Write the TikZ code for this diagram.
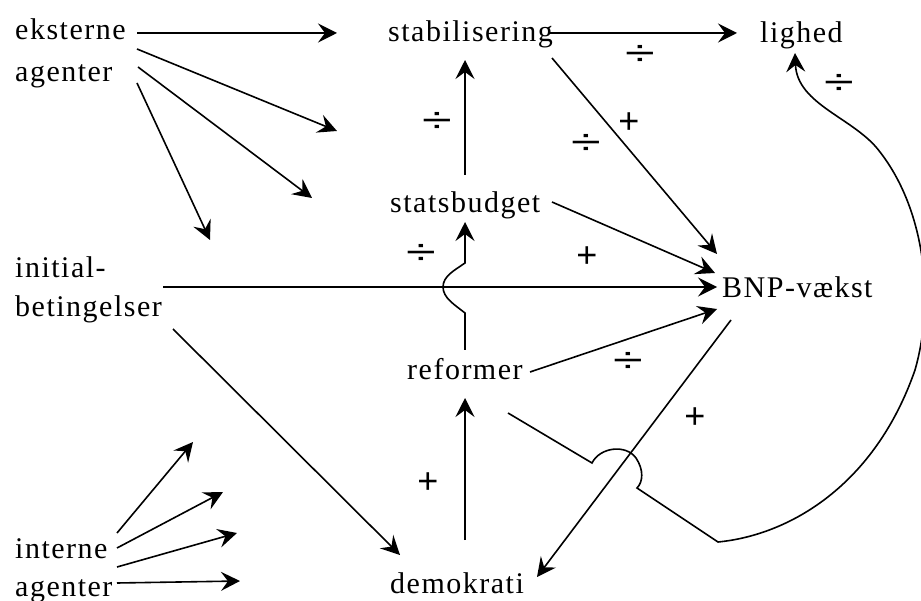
\documentclass[tikz,border=0pt]{standalone}
\usepackage{fontspec}
\usepackage{graphicx}
\setmainfont{Liberation Serif}[LetterSpace=5]
\newfontfamily\signfont{Liberation Sans}
\usetikzlibrary{arrows.meta}
\begin{document}
\begin{tikzpicture}[x=1pt,y=-1pt,
  lbl/.style={anchor=base west, inner sep=0pt, font=\fontsize{30}{36}\selectfont},
  arr/.style={line width=1.6pt, -{Stealth[length=19pt,width=19pt,inset=7pt]}},
  dv/.style={inner sep=0pt, font=\signfont\fontsize{36}{40}\selectfont},
  pl/.style={inner sep=0pt, font=\signfont\fontsize{36}{40}\selectfont}]
\useasboundingbox[fill=white] (0,0) rectangle (921,601);
% labels
\node[lbl] (eks)  at (15,40)  {eksterne};
\node[lbl] (eksb) at (15,82)  {agenter};
\node[lbl] (stab) at (388,42) {stabilisering};
\node[lbl] (lig)  at (760,43) {lighed};
\node[lbl] (stat) at (390,213) {statsbudget};
\node[lbl] (ini)  at (15,278) {initial-};
\node[lbl] (inib) at (15,317) {betingelser};
\node[lbl] (bnp)  at (722,298) {BNP-vækst};
\node[lbl] (ref)  at (407,380) {reformer};
\node[lbl] (dem)  at (390,593) {demokrati};
\node[lbl] (int)  at (15,558) {interne};
\node[lbl] (intb) at (15,596) {agenter};
% free ends
\coordinate (e1) at (337,131);
\coordinate (e2) at (312,198);
\coordinate (e3) at (210,240);
\coordinate (i1) at (193,442);
\coordinate (i2) at (223,492);
\coordinate (i3) at (237,533);
\coordinate (i4) at (240,581);
% eksterne agenter
\draw[arr] ([shift={(122,-7)}]eks.base west) -- ([shift={(-51,-9)}]stab.base west);
\draw[arr] ([shift={(122,9)}]eks.base west) -- (e1);
\draw[arr] ([shift={(123,27)}]eks.base west) -- (e2);
\draw[arr] ([shift={(122,1)}]eksb.base west) -- (e3);
% stabilisering
\draw[arr] ([shift={(75,-38)}]stat.base west) -- ([shift={(77,18)}]stab.base west);
\draw[arr] ([shift={(162,-9)}]stab.base west) -- ([shift={(-23,-10)}]lig.base west);
\draw[arr] ([shift={(164,16)}]stab.base west) -- ([shift={(-5,-44)}]bnp.base west);
\draw[arr] ([shift={(162,-11)}]stat.base west) -- ([shift={(-7,-25)}]bnp.base west);
\draw[arr] ([shift={(148,9)}]ini.base west) -- ([shift={(-5,-11)}]bnp.base west);
% reformer -> statsbudget with hop
\draw[arr] ([shift={(58,-30)}]ref.base west) -- (465,313)
  .. controls (455,305) and (443,298) .. (443,287)
  .. controls (443,276) and (455,270) .. (465,263)
  -- ([shift={(75,9)}]stat.base west);
\draw[arr] ([shift={(123,-8)}]ref.base west) -- ([shift={(-5,11)}]bnp.base west);
\draw[arr] ([shift={(9,22)}]bnp.base west) -- ([shift={(147,-16)}]dem.base west);
% reformer -> lighed
\draw[arr] ([shift={(101,33)}]ref.base west) -- (592,463)
  .. controls (600,447) and (626,444) .. (636,458)
  .. controls (644,470) and (643,482) .. (637,488)
  -- (718,542)
  .. controls (790,535) and (875,485) .. (915,370)
  .. controls (935,300) and (925,210) .. (880,152)
  .. controls (855,118) and (797,105) .. ([shift={(35,10)}]lig.base west);
\draw[arr] ([shift={(75,-53)}]dem.base west) -- ([shift={(58,18)}]ref.base west);
\draw[arr] ([shift={(158,12)}]inib.base west) -- ([shift={(10,-38)}]dem.base west);
% interne agenter
\draw[arr] ([shift={(102,-25)}]int.base west) -- (i1);
\draw[arr] ([shift={(102,-10)}]int.base west) -- (i2);
\draw[arr] ([shift={(102,9)}]int.base west) -- (i3);
\draw[arr] ([shift={(102,-13)}]intb.base west) -- (i4);
% signs
\node[dv] (s1) at (640,55) {\scalebox{1.5}[1]{÷}};
\node[dv] (s2) at (437,122) {\scalebox{1.5}[1]{÷}};
\node[pl] (s3) at (629,123) {+};
\node[dv] (s4) at (586,144) {\scalebox{1.5}[1]{÷}};
\node[dv] (s5) at (839,84) {\scalebox{1.5}[1]{÷}};
\node[dv] (s6) at (421,254) {\scalebox{1.5}[1]{÷}};
\node[pl] (s7) at (587,257) {+};
\node[dv] (s8) at (628,362) {\scalebox{1.5}[1]{÷}};
\node[pl] (s9) at (695,418) {+};
\node[pl] (s10) at (428,483) {+};
\end{tikzpicture}
\end{document}
